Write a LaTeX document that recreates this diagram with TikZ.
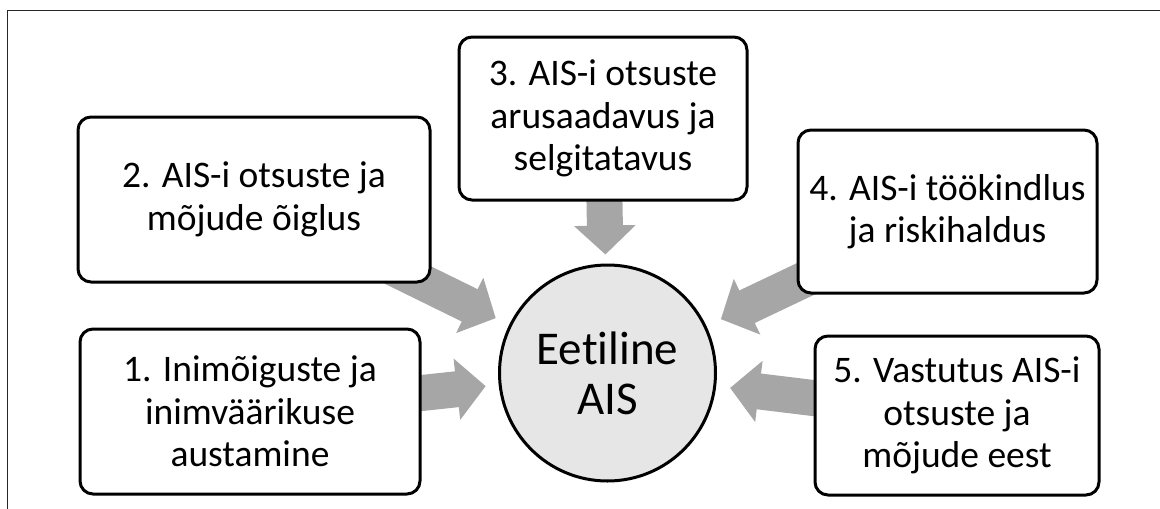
\documentclass[tikz,border=0pt]{standalone}
\usepackage{fontspec}
\setmainfont{Carlito}[Ligatures={NoCommon}]
\usetikzlibrary{arrows.meta,backgrounds}
\definecolor{arrowgray}{HTML}{A6A6A6}
\definecolor{hubgray}{HTML}{E6E6E6}
\begin{document}
\begin{tikzpicture}[x=1pt,y=-1pt,
  box/.style={draw=black, line width=3pt, fill=white, rounded corners=13pt, inner sep=0pt, align=center, font=\fontsize{37.5}{42.5}\selectfont},
  hub/.style={circle, draw=black, line width=3pt, fill=hubgray, minimum size=216pt, inner sep=0pt, align=center, font=\fontsize{47}{50}\selectfont},
  flow/.style={draw=arrowgray, line width=36pt, -{Triangle[width=60pt,length=29pt]}}]
\useasboundingbox (0,0) rectangle (1160,509);
\draw[line width=1pt, draw=black!85] (1160,10.5) -- (7.5,10.5) -- (7.5,509);

\node[hub] (c) at (607.5,373) {Eetiline\\AIS};
\node[box, minimum width=340pt, minimum height=165pt] (b1) at (250,411.5) {1. Inimõiguste ja\\inimväärikuse\\austamine};
\node[box, minimum width=352pt, minimum height=165pt] (b2) at (254,199.5) {2. AIS-i otsuste ja\\mõjude õiglus};
\node[box, minimum width=288pt, minimum height=163pt] (b3) at (603,118.5) {3. AIS-i otsuste\\arusaadavus ja\\selgitatavus};
\node[box, minimum width=299pt, minimum height=163pt] (b4) at (947.5,211.5) {4. AIS-i töökindlus\\ja riskihaldus};
\node[box, minimum width=284pt, minimum height=159pt] (b5) at (957,415.5) {5. Vastutus AIS-i\\otsuste ja\\mõjude eest};

\begin{scope}[on background layer]
\draw[flow, shorten >=13pt] (b1.center) -- (c);
\draw[flow, shorten >=15pt] (b2.center) -- (c);
\draw[flow, shorten >=9pt] (b3.center) -- (c);
\draw[flow, shorten >=16pt] (b4.center) -- (c);
\draw[flow, shorten >=14pt] (b5.center) -- (c);
\end{scope}
\end{tikzpicture}
\end{document}
